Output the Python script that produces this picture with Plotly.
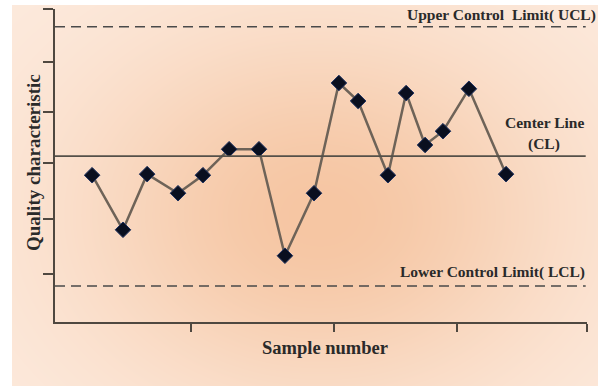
import base64, struct, zlib
import numpy as np
import plotly.graph_objects as go

# ---- data ----
sample_x = [1.43, 2.62, 3.55, 4.74, 5.70, 6.71, 7.86, 8.86, 9.98, 10.94,
            11.68, 12.83, 13.53, 14.26, 14.95, 15.95, 17.38]
quality = [2.77, 1.74, 2.79, 2.43, 2.77, 3.26, 3.26, 1.25, 2.43, 4.51,
           4.17, 2.77, 4.32, 3.34, 3.60, 4.40, 2.79]
ucl_value = 5.57
cl_value = 3.13
lcl_value = 0.68
x_tickvals = [5.24, 10.75, 15.49, 20.5]
y_tickvals = [0.906, 1.943, 3.0, 3.962, 4.906, 5.906]

W, H = 603, 389
L, R, T, B = 55, 16, 9, 67
PW, PH = W - L - R, H - T - B

def px2paper_x(px):
    return (px - L) / PW

def px2paper_y(py):
    return (H - B - py) / PH

# ---- background gradient image ----
yy, xx = np.mgrid[0:H, 0:W].astype(float)
edge = np.array([253, 236, 224], float)
center = np.array([246, 198, 163], float)
r2 = ((xx - 320) / 260.0) ** 2 + ((yy - 215) / 200.0) ** 2
t = np.exp(-r2 * 1.1)[..., None]
img = edge * (1 - t) + center * t
frame = (xx >= 12) & (xx <= 597) & (yy >= 5) & (yy <= 385)
img[~frame] = [255, 255, 255]
img = img.astype(np.uint8)

def png_bytes(arr):
    h, w, _ = arr.shape
    raw = b"".join(b"\x00" + arr[i].tobytes() for i in range(h))
    def chunk(tag, data):
        c = struct.pack(">I", len(data)) + tag + data
        return c + struct.pack(">I", zlib.crc32(tag + data) & 0xffffffff)
    ihdr = struct.pack(">IIBBBBB", w, h, 8, 2, 0, 0, 0)
    return (b"\x89PNG\r\n\x1a\n" + chunk(b"IHDR", ihdr)
            + chunk(b"IDAT", zlib.compress(raw, 9)) + chunk(b"IEND", b""))

src = "data:image/png;base64," + base64.b64encode(png_bytes(img)).decode()

fig = go.Figure()
fig.add_trace(go.Scatter(
    x=sample_x, y=quality, mode="lines+markers",
    line=dict(color="#6e6358", width=2.5),
    marker=dict(symbol="diamond", size=12, color="#0a0f1f",
                line=dict(color="#1d3160", width=1)),
    hoverinfo="skip", showlegend=False))

line_color = "#4a4a4a"
x_end = 20.45
fig.add_shape(type="line", xref="x", yref="y", x0=0, x1=x_end, y0=ucl_value, y1=ucl_value,
              line=dict(color=line_color, width=1.6, dash="10px,6px"))
fig.add_shape(type="line", xref="x", yref="y", x0=0, x1=x_end, y0=cl_value, y1=cl_value,
              line=dict(color="#555049", width=1.6))
fig.add_shape(type="line", xref="x", yref="y", x0=0, x1=x_end, y0=lcl_value, y1=lcl_value,
              line=dict(color=line_color, width=1.6, dash="10px,6px"))

def ann(text, px, py, size=15.5, xanchor="center", angle=0):
    fig.add_annotation(text=f"<b>{text}</b>", xref="paper", yref="paper",
                       x=px2paper_x(px), y=px2paper_y(py), showarrow=False,
                       xanchor=xanchor, yanchor="middle", textangle=angle,
                       font=dict(family="Liberation Serif", color="#2a2a2a", size=size))

ann("Upper Control&nbsp;&nbsp;Limit( UCL)", 598, 15, 15.5, "right")
ann("Center Line", 544, 122, 15.5)
ann("(CL)", 544, 144, 15.5)
ann("Lower Control Limit( LCL)", 587, 272, 15.5, "right")
ann("Sample number", 325, 348, 18.5)
ann("Quality characteristic", 34, 163, 19, "center", -90)

fig.add_layout_image(dict(source=src, xref="paper", yref="paper",
                          x=px2paper_x(0), y=px2paper_y(0),
                          sizex=W / PW, sizey=H / PH,
                          xanchor="left", yanchor="top", sizing="stretch",
                          layer="below", opacity=1))

axis_color = "#4f4840"
fig.update_xaxes(range=[0, 20.5], showline=True, linecolor=axis_color, linewidth=2,
                 ticks="outside", tickvals=x_tickvals, ticklen=8, tickwidth=2,
                 tickcolor=axis_color, showticklabels=False, showgrid=False,
                 zeroline=False, fixedrange=True)
fig.update_yaxes(range=[0, 5.906], showline=True, linecolor=axis_color, linewidth=2,
                 ticks="outside", tickvals=y_tickvals, ticklen=10, tickwidth=2,
                 tickcolor=axis_color, showticklabels=False, showgrid=False,
                 zeroline=False, fixedrange=True)

fig.update_layout(width=W, height=H, margin=dict(l=L, r=R, t=T, b=B),
                  paper_bgcolor="white", plot_bgcolor="rgba(0,0,0,0)",
                  showlegend=False)

fig.write_html("out.html", config={"displayModeBar": False},
               post_script="document.body.style.margin='0';document.body.style.overflow='hidden';")
